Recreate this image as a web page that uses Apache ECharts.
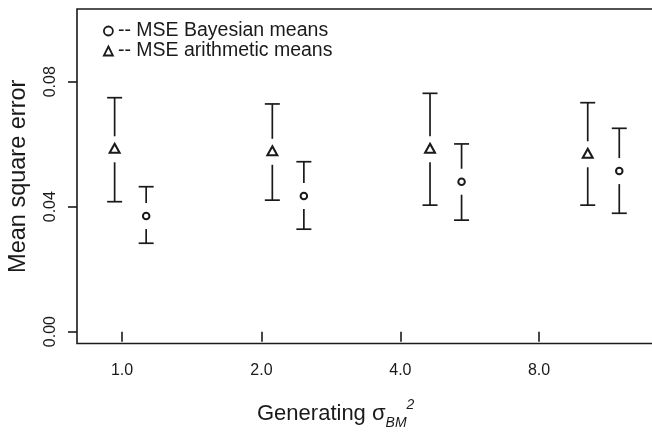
<!DOCTYPE html>
<html>
<head>
<meta charset="utf-8">
<script src="https://cdn.jsdelivr.net/npm/echarts@6/dist/echarts.min.js"></script>
<style>
  html, body { margin: 0; padding: 0; background: #fff; }
  #chart { width: 652px; height: 442px; }
</style>
</head>
<body>
<div id="chart"></div>
<script>
// x labels and where their ticks sit on the x scale
const categories = ["1.0", "2.0", "4.0", "8.0"];
const tickPos = [0.947, 1.831, 2.712, 3.591];
const yTicks = [0, 0.04, 0.08];

// arithmetic means (triangles)
const ariX = [0.9, 1.9, 2.9, 3.9];
const ariMean = [0.0587, 0.0579, 0.0587, 0.0571];
const ariLow = [0.0416, 0.0421, 0.0405, 0.0405];
const ariHigh = [0.0749, 0.0729, 0.0763, 0.0733];

// Bayesian means (circles)
const bayX = [1.1, 2.1, 3.1, 4.1];
const bayMean = [0.037, 0.0434, 0.048, 0.0514];
const bayLow = [0.0283, 0.0328, 0.0357, 0.0379];
const bayHigh = [0.0464, 0.0544, 0.0601, 0.0651];

const INK = "#1a1a1a";
const FONT = "Liberation Sans, Arial, sans-serif";

function lineStyle() {
  return { stroke: INK, lineWidth: 1.7, fill: null };
}

// vertical bar with a cap at each end, broken round the point
function errorBar(gapTop, gapBottom) {
  return function(params, api) {
    var x = api.value(0);
    var lo = api.coord([x, api.value(1)]);
    var mid = api.coord([x, api.value(2)]);
    var hi = api.coord([x, api.value(3)]);
    var half = 7.5;
    return {
      type: "group",
      children: [
        { type: "line", shape: { x1: hi[0] - half, y1: hi[1], x2: hi[0] + half, y2: hi[1] }, style: lineStyle() },
        { type: "line", shape: { x1: hi[0], y1: hi[1], x2: hi[0], y2: mid[1] - gapTop }, style: lineStyle() },
        { type: "line", shape: { x1: lo[0], y1: mid[1] + gapBottom, x2: lo[0], y2: lo[1] }, style: lineStyle() },
        { type: "line", shape: { x1: lo[0] - half, y1: lo[1], x2: lo[0] + half, y2: lo[1] }, style: lineStyle() }
      ]
    };
  };
}

function zipRows(xs, lows, means, highs) {
  return xs.map(function(x, i) { return [x, lows[i], means[i], highs[i]]; });
}

var myChart = echarts.init(document.getElementById("chart"));

myChart.setOption({
  animation: false,
  backgroundColor: "#fff",
  grid: {
    left: 77,
    top: 9,
    right: -20,
    bottom: 98.5,
    show: true,
    borderColor: INK,
    borderWidth: 1.6,
    containLabel: false,
    outerBoundsMode: "none"
  },
  legend: {
    orient: "vertical",
    left: 103,
    top: 21,
    padding: 0,
    itemGap: 0,
    itemWidth: 9,
    itemHeight: 9,
    textStyle: { fontFamily: FONT, fontSize: 19.5, color: INK, lineHeight: 19.5 },
    data: [
      { name: "-- MSE Bayesian means", icon: "circle",
        itemStyle: { color: "#fff", borderColor: INK, borderWidth: 1.8 } },
      { name: "-- MSE arithmetic means", icon: "triangle",
        itemStyle: { color: "#fff", borderColor: INK, borderWidth: 1.8 } }
    ]
  },
  xAxis: {
    type: "value",
    min: 0.6614,
    max: 4.4344,
    axisLine: { show: false },
    splitLine: { show: false },
    axisTick: {
      show: true,
      length: 10,
      customValues: tickPos,
      lineStyle: { color: INK, width: 1.6 }
    },
    axisLabel: {
      customValues: tickPos,
      margin: 19,
      fontFamily: FONT,
      fontSize: 16,
      color: INK,
      formatter: function(v) {
        var best = 0;
        tickPos.forEach(function(p, i) {
          if (Math.abs(p - v) < Math.abs(tickPos[best] - v)) best = i;
        });
        return categories[best];
      }
    }
  },
  yAxis: {
    type: "value",
    min: -0.0038,
    max: 0.1033,
    name: "Mean square error",
    nameLocation: "middle",
    nameGap: 46,
    nameTextStyle: { fontFamily: FONT, fontSize: 23.5, color: INK },
    axisLine: { show: false },
    splitLine: { show: false },
    axisTick: {
      show: true,
      length: 9,
      customValues: yTicks,
      lineStyle: { color: INK, width: 1.6 }
    },
    axisLabel: {
      customValues: yTicks,
      rotate: 90,
      margin: 18,
      fontFamily: FONT,
      fontSize: 16,
      color: INK,
      formatter: function(v) { return v.toFixed(2); }
    }
  },
  graphic: [
    {
      type: "text",
      left: 257,
      top: 398,
      style: {
        text: "{m|Generating σ}{sub|BM}{sup|2}",
        fontFamily: FONT,
        fill: INK,
        rich: {
          m: { fontFamily: FONT, fontSize: 22, color: INK, lineHeight: 32 },
          sub: { fontFamily: FONT, fontSize: 14, fontStyle: "italic", color: INK, verticalAlign: "bottom", lineHeight: 15 },
          sup: { fontFamily: FONT, fontSize: 14, fontStyle: "italic", color: INK, verticalAlign: "top", lineHeight: 15 }
        }
      }
    }
  ],
  series: [
    {
      name: "-- MSE Bayesian means",
      type: "scatter",
      data: bayX.map(function(x, i) { return [x, bayMean[i]]; }),
      symbol: "circle",
      symbolSize: 6.5,
      itemStyle: { color: "#fff", borderColor: INK, borderWidth: 2, opacity: 1 },
      z: 3
    },
    {
      name: "-- MSE arithmetic means",
      type: "scatter",
      data: ariX.map(function(x, i) { return [x, ariMean[i]]; }),
      symbol: "triangle",
      symbolSize: [10, 9],
      itemStyle: { color: "#fff", borderColor: INK, borderWidth: 2, opacity: 1 },
      z: 3
    },
    {
      name: "Bayesian bars",
      type: "custom",
      renderItem: errorBar(13, 13),
      encode: { x: 0, y: [1, 2, 3] },
      data: zipRows(bayX, bayLow, bayMean, bayHigh),
      z: 2
    },
    {
      name: "arithmetic bars",
      type: "custom",
      renderItem: errorBar(12, 14),
      encode: { x: 0, y: [1, 2, 3] },
      data: zipRows(ariX, ariLow, ariMean, ariHigh),
      z: 2
    }
  ]
});
</script>
</body>
</html>
